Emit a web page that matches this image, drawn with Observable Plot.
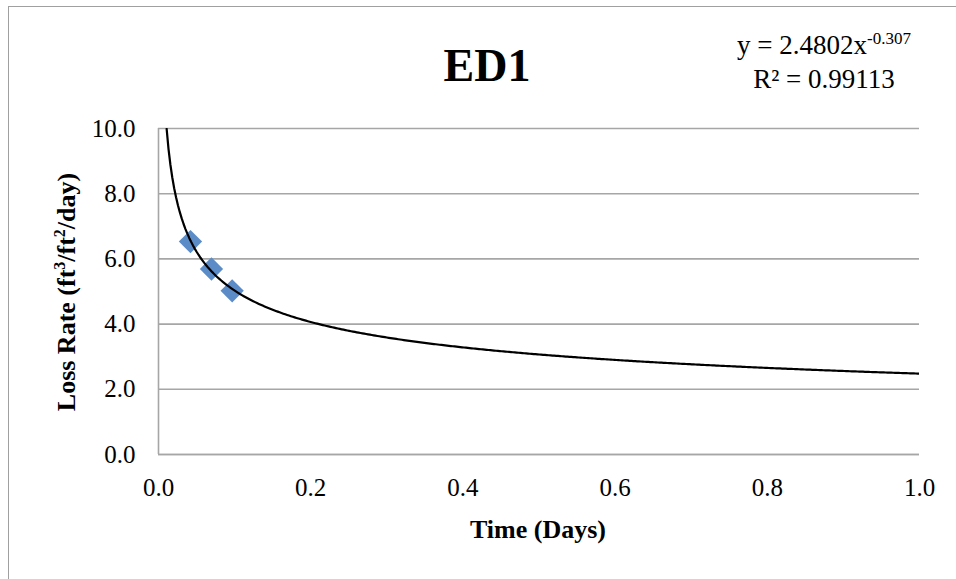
<!DOCTYPE html>
<html>
<head>
<meta charset="utf-8">
<script src="https://cdn.jsdelivr.net/npm/d3@7"></script>
<script src="https://cdn.jsdelivr.net/npm/@observablehq/plot@0.6"></script>
<style>
  html, body { margin: 0; padding: 0; background: #fff; }
  body { width: 956px; height: 579px; overflow: hidden; position: relative; font-family: "Liberation Serif", "Times New Roman", serif; }
  #frame { position: absolute; left: 8px; top: 6px; width: 1200px; height: 1200px; border: 1.5px solid #A0A0A0; }
  #chart { position: absolute; left: 0; top: 0; }
  .txt { position: absolute; color: #000; white-space: nowrap; font-family: "Liberation Serif", "Times New Roman", serif; }
  #title { left: 487px; top: 65px; transform: translate(-50%, -50%); font-size: 46px; font-weight: bold; }
  #eq { left: 824px; top: 30px; transform: translateX(-50%); font-size: 27px; text-align: center; line-height: 31px; }
  #eq sup { font-size: 17px; vertical-align: 0; position: relative; top: -10px; }
  #xlabel { left: 538px; top: 530px; transform: translate(-50%, -50%); font-size: 26px; font-weight: bold; }
  #ylabel { left: 67px; top: 292px; transform: translate(-50%, -50%) rotate(-90deg); font-size: 26px; font-weight: bold; }
  #ylabel sup { font-size: 16px; position: relative; top: -10px; vertical-align: 0; }
</style>
</head>
<body>
<div id="frame"></div>
<div id="chart"></div>
<div class="txt" id="title">ED1</div>
<div class="txt" id="eq">y = 2.4802x<sup>-0.307</sup><br>R² = 0.99113</div>
<div class="txt" id="xlabel">Time (Days)</div>
<div class="txt" id="ylabel">Loss Rate (ft<sup>3</sup>/ft<sup>2</sup>/day)</div>
<script>
// Measured data (Time in days, Loss rate ft3/ft2/day)
const timeDays = [0.042, 0.0696, 0.0968];
const lossRate = [6.53, 5.69, 5.02];

// Power trendline reported on the chart: y = a * x^b
const trendA = 2.4802;
const trendB = -0.307;
const trendStart = 0.0107;  // where the trendline meets the top of the axis (y = 10)
const trendSteps = 400;

// Axis ticks
const xTicks = [0, 0.2, 0.4, 0.6, 0.8, 1.0];
const yTicks = [0, 2, 4, 6, 8, 10];

const points = timeDays.map((t, i) => ({t, r: lossRate[i]}));
const trend = d3.range(trendSteps + 1).map(i => {
  const t = trendStart + (1 - trendStart) * i / trendSteps;
  return {t, r: trendA * Math.pow(t, trendB)};
});

const gridColor = "#A6A6A6";
const chart = Plot.plot({
  width: 956,
  height: 579,
  marginLeft: 158,
  marginRight: 37,
  marginTop: 128,
  marginBottom: 125,
  style: {fontFamily: "'Liberation Serif', 'Times New Roman', serif", fontSize: "25px", color: "#000", background: "transparent"},
  x: {domain: [0, 1], ticks: xTicks, tickFormat: d3.format(".1f"), label: null},
  y: {domain: [0, 10], ticks: yTicks, tickFormat: d3.format(".1f"), label: null},
  marks: [
    Plot.gridY(yTicks, {stroke: gridColor, strokeOpacity: 1, strokeWidth: 1.6}),
    Plot.ruleX([0], {stroke: gridColor, strokeWidth: 1.6}),
    Plot.ruleY([0], {stroke: gridColor, strokeWidth: 1.6}),
    Plot.axisX({ticks: xTicks, tickSize: 0, tickPadding: 24, tickFormat: d3.format(".1f"), fontSize: 25}),
    Plot.axisY({ticks: yTicks, tickSize: 0, tickPadding: 23, tickFormat: d3.format(".1f"), fontSize: 25}),
    Plot.dot(points, {x: "t", y: "r", symbol: "diamond2", r: 10.5, fill: "#5B8CC8", stroke: "none"}),
    Plot.line(trend, {x: "t", y: "r", stroke: "#000", strokeWidth: 2.2, clip: true})
  ]
});
document.getElementById("chart").appendChild(chart);
</script>
</body>
</html>
